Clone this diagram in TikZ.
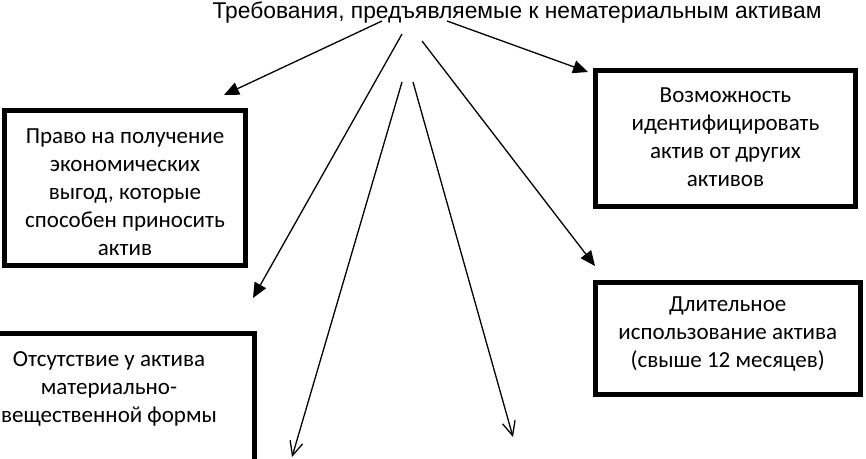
\documentclass[tikz,border=0pt]{standalone}
\usepackage{fontspec}
\setmainfont{Carlito}
\newfontfamily\titlefont{Liberation Sans}
\usetikzlibrary{arrows.meta}
\tikzset{
  box/.style={draw, line width=5pt, inner sep=0pt},
  txt/.style={align=center, font=\fontsize{23}{28}\selectfont, inner sep=0pt},
  farrow/.style={line width=1.3pt, -{Triangle[length=15pt,width=13pt]}},
  oarrow/.style={line width=1.3pt, -{Straight Barb[length=14pt,width=13pt,line width=1.3pt]}}
}
\begin{document}
\begin{tikzpicture}[x=1pt,y=-1pt]
\useasboundingbox (0,0) rectangle (866,458);
\clip (0,0) rectangle (866,458);
% title
\node[font=\titlefont\fontsize{22.8}{24}\selectfont, anchor=base, inner sep=0pt] (title) at (517,18) {Требования, предъявляемые к нематериальным активам};
% boxes
\node[box, minimum width=241pt, minimum height=154.5pt] (b1) at (125,187.75) {};
\node[txt] (t1) at (125,192) {Право на получение\\экономических\\выгод, которые\\способен приносить\\актив};
\node[box, minimum width=260pt, minimum height=136pt] (b2) at (725.5,138.5) {};
\node[txt] (t2) at (725.5,137) {Возможность\\идентифицировать\\актив от других\\активов};
\node[box, minimum width=264.5pt, minimum height=112pt] (b3) at (727.75,338.5) {};
\node[txt] (t3) at (727.75,334) {Длительное\\использование актива\\(свыше 12 месяцев)};
\node[box, minimum width=300pt, minimum height=200pt] (b4) at (104,433) {};
\node[txt] (t4) at (109,389) {Отсутствие у актива\\материально-\\вещественной формы};
% arrow coordinates
\coordinate (s1) at (382,21);  \coordinate (e1) at (224,95);
\coordinate (s2) at (447,21);  \coordinate (e2) at (588,72);
\coordinate (s3) at (402,34);  \coordinate (e3) at (253,298);
\coordinate (s4) at (422,41);  \coordinate (e4) at (595,266);
\coordinate (s5) at (402,82);  \coordinate (e5) at (292,457);
\coordinate (s6) at (413,82);  \coordinate (e6) at (513,437);
\draw[farrow] (s1) -- (e1);
\draw[farrow] (s2) -- (e2);
\draw[farrow] (s3) -- (e3);
\draw[farrow] (s4) -- (e4);
\draw[oarrow] (s5) -- (e5);
\draw[oarrow] (s6) -- (e6);
\end{tikzpicture}
\end{document}
